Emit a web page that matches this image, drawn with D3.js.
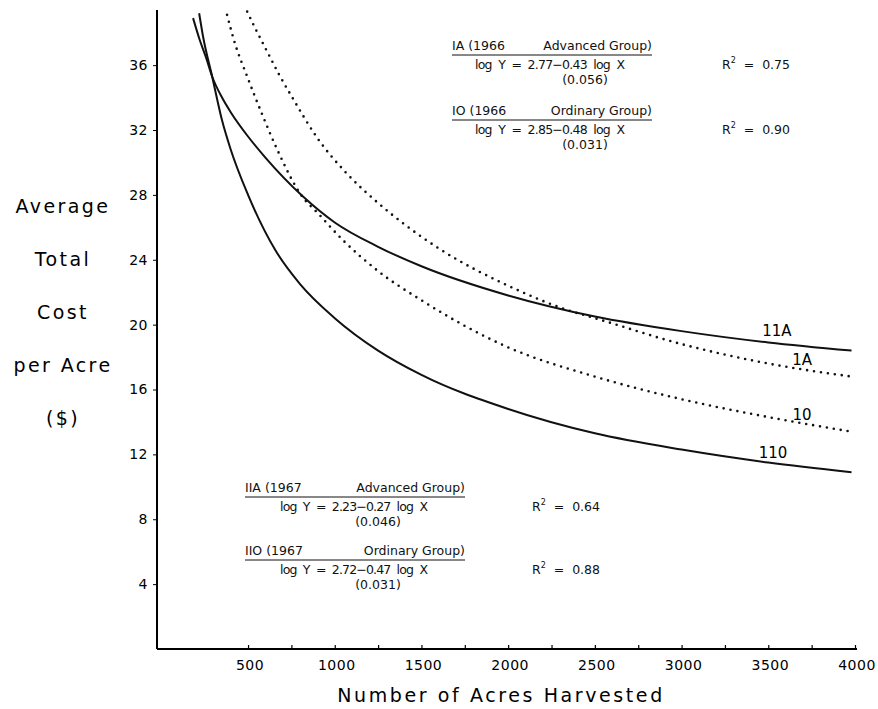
<!DOCTYPE html>
<html>
<head>
<meta charset="utf-8">
<script src="https://cdn.jsdelivr.net/npm/d3@7"></script>
<style>
  body { margin: 0; background: #fff; }
  svg { display: block; font-family: "DejaVu Sans", sans-serif; }
  .ann { font-size: 12.5px; fill: #111; }
</style>
</head>
<body>
<div id="chart"></div>
<script>
// values (acres, $ per acre)
const x11A = [183, 220, 260, 293, 350, 400, 500, 600, 817, 1000, 1250, 1500, 2000, 2500, 3000, 3500, 3980];
const y11A = [38.9, 37.6, 36.4, 35.3, 34.0, 33.1, 31.6, 30.3, 27.9, 26.3, 24.8, 23.6, 21.8, 20.5, 19.6, 18.9, 18.4];
const x11O = [218, 240, 293, 350, 400, 500, 657, 800, 1000, 1250, 1500, 2000, 2500, 3000, 3500, 3980];
const y11O = [39.2, 37.8, 35.3, 32.6, 30.8, 28.0, 24.6, 22.5, 20.4, 18.4, 16.9, 14.8, 13.3, 12.3, 11.5, 10.9];
const x1O = [379, 420, 495, 580, 668, 812, 900, 1048, 1250, 1500, 2000, 2500, 3000, 3500, 3980];
const y1O = [39.1, 37.5, 35.3, 33.0, 30.8, 27.9, 26.9, 25.2, 23.3, 21.5, 18.6, 16.8, 15.4, 14.3, 13.4];
const x1A = [495, 540, 600, 680, 761, 900, 1071, 1250, 1400, 1600, 2000, 2371, 2500, 3000, 3500, 3980];
const y1A = [39.3, 38.3, 37.05, 35.4, 33.9, 31.5, 29.3, 27.5, 26.2, 24.7, 22.4, 20.8, 20.4, 18.8, 17.6, 16.8];

const xTickLabels = [500, 1000, 1500, 2000, 2500, 3000, 3500, 4000];
const xMinorTicks = d3.range(500, 4001, 250);
const yTicks = [4, 8, 12, 16, 20, 24, 28, 32, 36];
const yTitle = ["Average", "Total", "Cost", "per Acre", "($)"];

const series = [
  { name: "11A", xs: x11A, ys: y11A, dotted: false },
  { name: "11O", xs: x11O, ys: y11O, dotted: false },
  { name: "1O", xs: x1O, ys: y1O, dotted: true },
  { name: "1A", xs: x1A, ys: y1A, dotted: true }
];

const curveNames = ["11A", "1A", "10", "110"];
const curveNameAt = [[3550, 19.3], [3695, 17.5], [3695, 14.1], [3527, 11.8]];

// regression texts
const eqHeads = ["IA (1966", "IO (1966", "IIA (1967", "IIO (1967"];
const eqGroups = ["Advanced Group)", "Ordinary Group)", "Advanced Group)", "Ordinary Group)"];
const eqLines = ["log  Y  =  2.77\u22120.43  log  X", "log  Y  =  2.85\u22120.48  log  X",
                 "log  Y  =  2.23\u22120.27  log  X", "log  Y  =  2.72\u22120.47  log  X"];
const eqR2 = ["0.75", "0.90", "0.64", "0.88"];
const eqSE = ["(0.056)", "(0.031)", "(0.046)", "(0.031)"];

// layout of each annotation block (pixels)
const eqLayout = [
  { x: 452, y: 50, end: 652, eqX: 475, eqW: 150, r2X: 722, seX: 585 },
  { x: 452, y: 115, end: 652, eqX: 475, eqW: 150, r2X: 722, seX: 585 },
  { x: 245, y: 492, end: 465, eqX: 280, eqW: 148, r2X: 532, seX: 378 },
  { x: 245, y: 555, end: 465, eqX: 280, eqW: 148, r2X: 532, seX: 378 }
];

const W = 878, H = 709;
const svg = d3.select("#chart").append("svg").attr("width", W).attr("height", H);

const x = d3.scaleLinear().domain([-25, 4000]).range([157, 855]);
const y = d3.scaleLinear().domain([0, 39.4]).range([649, 10]);

// axes
const gx = svg.append("g").attr("transform", `translate(0,${y(0)})`)
  .call(d3.axisBottom(x).tickValues(xMinorTicks).tickSize(-4).tickFormat(""));
gx.select(".domain").attr("d", `M${x(-25)},0H857`).attr("stroke-width", 2);
gx.selectAll(".tick line").attr("stroke-width", 1.2);

svg.append("g").selectAll("text").data(xTickLabels).join("text")
  .attr("x", d => x(d) + 2).attr("y", 670)
  .attr("text-anchor", "middle")
  .attr("font-size", 14).attr("letter-spacing", 0.5)
  .text(d => d);

const gy = svg.append("g").attr("transform", `translate(${x(-25)},0)`)
  .call(d3.axisLeft(y).tickValues(yTicks).tickSize(4).tickPadding(5));
gy.select(".domain").attr("d", `M0,${y(39.4)}V${y(0)}`).attr("stroke-width", 2);
gy.selectAll(".tick text").attr("font-size", 14).attr("font-family", "DejaVu Sans").attr("letter-spacing", 0.5);

// axis titles
svg.append("text")
  .attr("x", 501).attr("y", 702)
  .attr("text-anchor", "middle")
  .attr("font-size", 19).attr("letter-spacing", 2.6)
  .text("Number of Acres Harvested");

svg.append("g").selectAll("text").data(yTitle).join("text")
  .attr("x", 63).attr("y", (d, i) => 213 + i * 53)
  .attr("text-anchor", "middle")
  .attr("font-size", 19).attr("letter-spacing", 2.4)
  .text(d => d);

// curves
const line = d3.line().x(d => x(d[0])).y(d => y(d[1])).curve(d3.curveMonotoneX);

svg.append("g").selectAll("path").data(series).join("path")
  .attr("fill", "none")
  .attr("stroke", "#111")
  .attr("stroke-width", d => d.dotted ? 2.6 : 2)
  .attr("stroke-linecap", d => d.dotted ? "round" : "butt")
  .attr("stroke-dasharray", d => d.dotted ? "0 7" : null)
  .attr("d", d => line(d.xs.map((v, i) => [v, d.ys[i]])));

svg.append("g").selectAll("text").data(curveNames).join("text")
  .attr("x", (d, i) => x(curveNameAt[i][0])).attr("y", (d, i) => y(curveNameAt[i][1]))
  .attr("text-anchor", "middle")
  .attr("font-size", 15)
  .text(d => d);

// regression annotations
const ga = svg.append("g").attr("class", "ann");
eqLayout.forEach((p, i) => {
  ga.append("text").attr("x", p.x).attr("y", p.y).text(eqHeads[i]);
  ga.append("text").attr("x", p.end).attr("y", p.y).attr("text-anchor", "end").text(eqGroups[i]);
  ga.append("line").attr("x1", p.x).attr("x2", p.end)
    .attr("y1", p.y + 5).attr("y2", p.y + 5)
    .attr("stroke", "#111").attr("stroke-width", 1);
  ga.append("text").attr("x", p.eqX).attr("y", p.y + 19).attr("xml:space", "preserve")
    .attr("textLength", p.eqW).attr("lengthAdjust", "spacing").text(eqLines[i]);
  const r = ga.append("text").attr("x", p.r2X).attr("y", p.y + 19).attr("xml:space", "preserve");
  r.append("tspan").text("R");
  r.append("tspan").attr("dy", -6).attr("font-size", 8).text("2");
  r.append("tspan").attr("dy", 6).text("  =  " + eqR2[i]);
  ga.append("text").attr("x", p.seX).attr("y", p.y + 34).attr("text-anchor", "middle").text(eqSE[i]);
});
</script>
</body>
</html>
